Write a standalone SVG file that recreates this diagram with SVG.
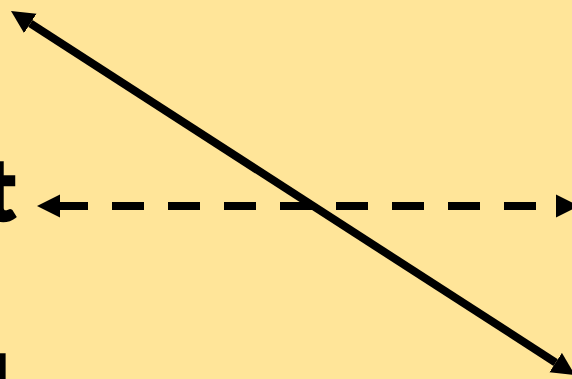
<svg xmlns="http://www.w3.org/2000/svg" width="572" height="379" viewBox="0 0 572 379">
  <style>
    .bg { fill: #FFE599; }
    .conn { stroke: #000000; stroke-width: 8; fill: none; }
    .dash { stroke-dasharray: 32 24; stroke-dashoffset: 4; }
    .lbl { font-family: "Lato", "Liberation Sans", sans-serif; font-weight: 700; font-size: 84px; fill: #000000; stroke: #000000; stroke-width: 3.5; stroke-linejoin: miter; }
  </style>
  <defs>
    <marker id="arrow" viewBox="0 -12 23 24" markerWidth="23" markerHeight="24" refX="0" refY="0" orient="auto-start-reverse" markerUnits="userSpaceOnUse">
      <path d="M0,-11.5 L23,0 L0,11.5 Z" fill="#000000"/>
    </marker>
  </defs>
  <rect class="bg" x="0" y="0" width="572" height="379"/>
  <g id="node-top-label">
    <text class="lbl" x="15" y="220" text-anchor="end">t</text>
  </g>
  <g id="node-bottom-label">
    <text class="lbl" x="9" y="418" text-anchor="end">l</text>
  </g>
  <g id="connectors">
    <line class="conn" x1="30.32" y1="23.47" x2="555.68" y2="362.53" marker-start="url(#arrow)" marker-end="url(#arrow)"/>
    <line class="conn dash" x1="60" y1="206" x2="556" y2="206" marker-start="url(#arrow)" marker-end="url(#arrow)"/>
  </g>
</svg>
